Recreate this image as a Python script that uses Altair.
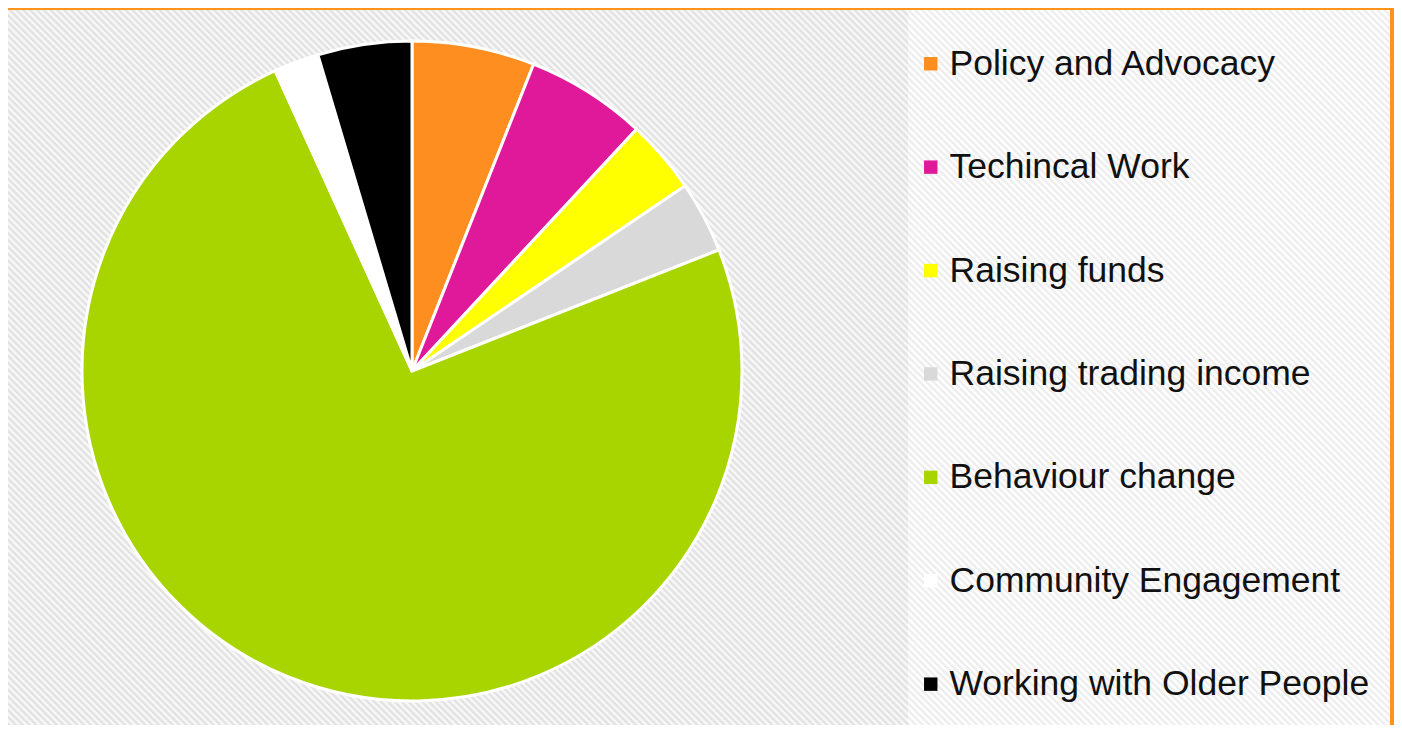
import altair as alt
import pandas as pd

categories = [
    "Policy and Advocacy",
    "Techincal Work",
    "Raising funds",
    "Raising trading income",
    "Behaviour change",
    "Community Engagement",
    "Working with Older People",
]
shares = [6.0, 5.9, 3.6, 3.5, 74.1, 2.2, 4.6]
colors = ["#FD8E1F", "#E0199A", "#FFFF00", "#D9D9D9", "#A8D400", "#FFFFFF", "#000000"]

df = pd.DataFrame({"category": categories, "share": shares, "idx": list(range(len(categories)))})

W, H = 1386, 717


def stripes(w, h, period, c1, c2):
    r = h / w
    a = (1 + r) / (1 + r * r)
    length = (w + h) / 2 ** 0.5
    n = int(length / period)
    stops = []
    for i in range(n):
        t0 = i / n
        dt = 1.0 / n
        stops.append({"offset": round(t0, 6), "color": c1})
        stops.append({"offset": round(t0 + dt * 0.35, 6), "color": c1})
        stops.append({"offset": round(t0 + dt * 0.5, 6), "color": c2})
        stops.append({"offset": round(t0 + dt * 0.85, 6), "color": c2})
    stops.append({"offset": 1, "color": c1})
    return {"gradient": "linear", "stops": stops, "x1": 0, "y1": 1, "x2": round(a, 6), "y2": round(1 - a * r, 6)}


one = alt.InlineData(values=[{"p": 1}])

bg_left = alt.Chart(one).mark_rect(
    fill=stripes(900, 715, 4.8, "#E3E3E3", "#F7F7F7"), strokeWidth=0
).encode(x=alt.value(0), x2=alt.value(900), y=alt.value(2), y2=alt.value(717))

bg_right = alt.Chart(one).mark_rect(
    fill=stripes(482, 715, 4.8, "#EEEEEE", "#FEFEFE"), strokeWidth=0
).encode(x=alt.value(900), x2=alt.value(1382), y=alt.value(2), y2=alt.value(717))

pie = alt.Chart(df).mark_arc(outerRadius=330, stroke="white", strokeWidth=3).encode(
    theta=alt.Theta("share:Q", stack=True),
    color=alt.Color(
        "category:N",
        scale=alt.Scale(domain=categories, range=colors),
        legend=alt.Legend(
            title=None,
            orient="none",
            legendX=905,
            legendY=38,
            symbolType="square",
            symbolSize=180,
            symbolStrokeWidth=0,
            labelFontSize=35.5,
            labelFont="Liberation Sans",
            labelColor="#111111",
            labelLimit=700,
            rowPadding=66.4,
            labelOffset=1,
            padding=0,
        ),
    ),
    order=alt.Order("idx:Q"),
    x=alt.value(404),
    y=alt.value(363),
)

chart = alt.layer(bg_left, bg_right, pie).properties(
    width=W, height=H, autosize="none", padding=0, background="#FF931E"
).configure_view(strokeWidth=0)

chart.save("out.html", embed_options={"renderer": "svg", "actions": False})
